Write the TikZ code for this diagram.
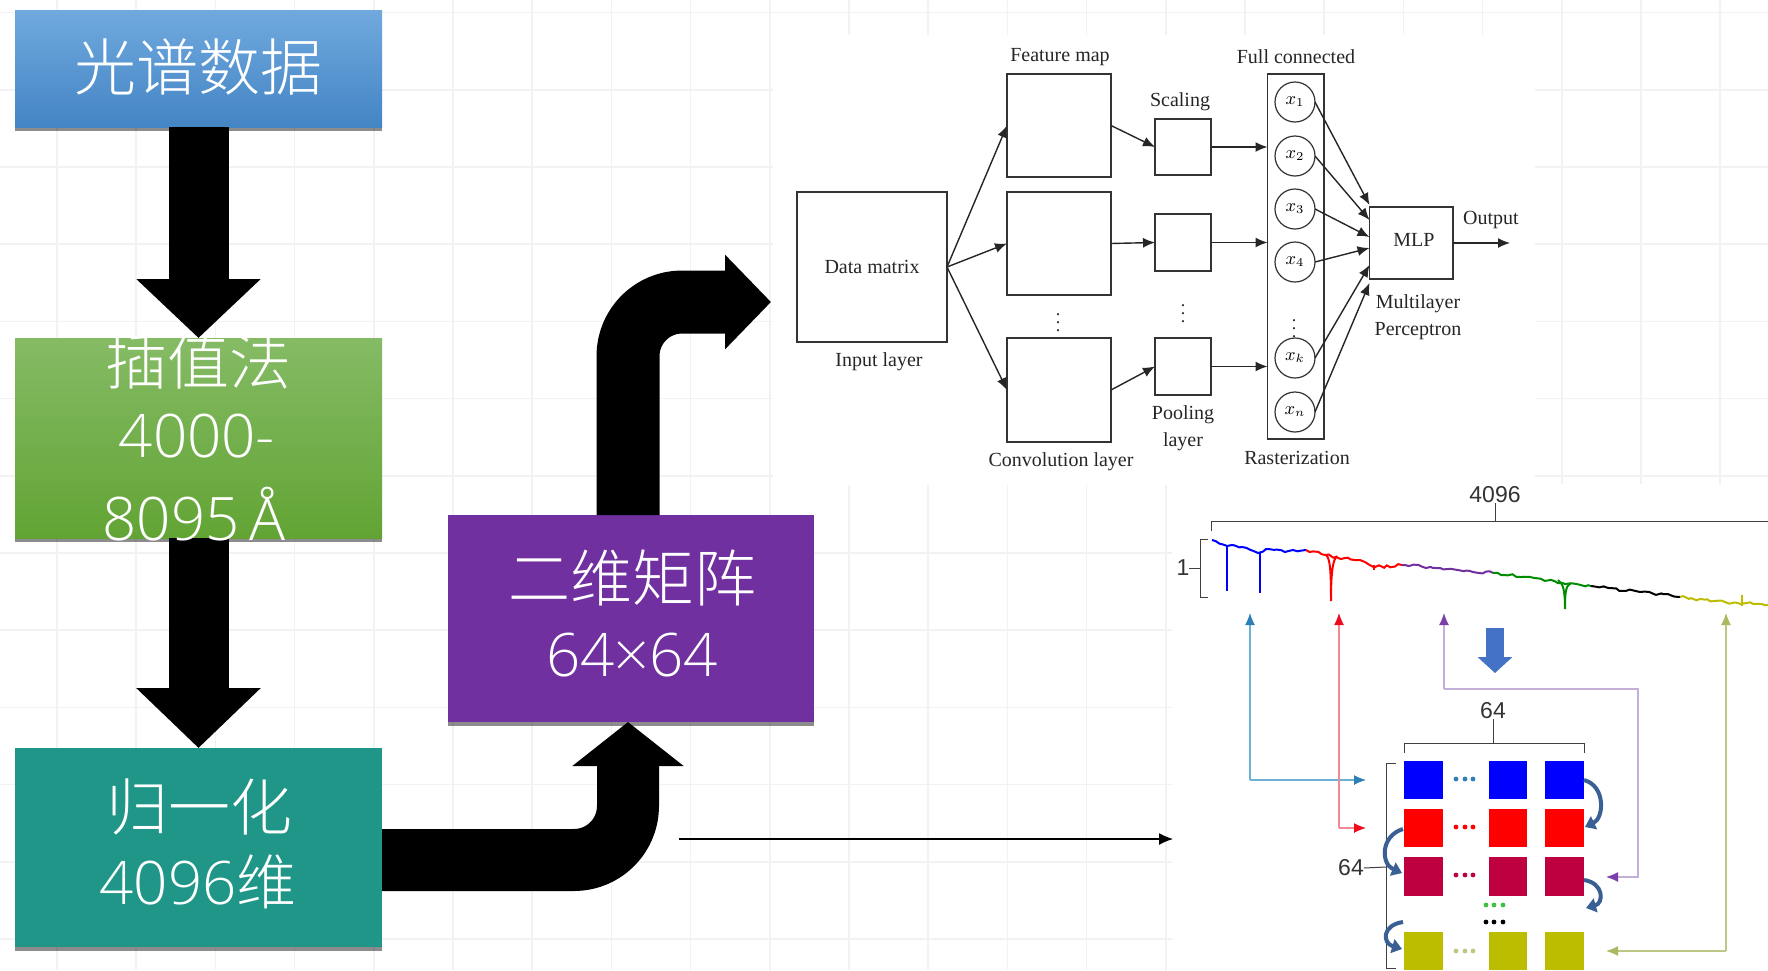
\documentclass[tikz,border=0pt]{standalone}
\usepackage{fontspec}
\usetikzlibrary{arrows.meta,shadows,calc,decorations.pathmorphing}
\setmainfont{Liberation Serif}
\newfontfamily\cjkf{Noto Sans CJK SC Light}
\newfontfamily\latf{Open Sans Light}
\newfontfamily\labf{Liberation Sans}
\definecolor{gridc}{HTML}{F2F2F4}
\definecolor{tealc}{HTML}{1F9688}
\definecolor{purpc}{HTML}{7030A0}
\definecolor{arrc}{HTML}{3A5F95}
\definecolor{dnblue}{HTML}{4472C4}
\definecolor{bluetop}{HTML}{70A9DE}\definecolor{bluebot}{HTML}{4485C5}
\definecolor{greentop}{HTML}{85BB65}\definecolor{greenbot}{HTML}{62A434}
\definecolor{lnblue}{HTML}{6DB2D6}\definecolor{tipblue}{HTML}{2E7FB5}
\definecolor{lnred}{HTML}{F28A96}\definecolor{tipred}{HTML}{F00A1E}
\definecolor{lnpur}{HTML}{C4AFD8}\definecolor{tippur}{HTML}{7A3FA8}
\definecolor{lnyel}{HTML}{BBC884}\definecolor{tipyel}{HTML}{A9BB62}
\definecolor{sqyel}{HTML}{BDBD00}
\newcommand{\pxbox}[6]{\pgfmathsetmacro\bcx{(#2+#4)/2}\pgfmathsetmacro\bcy{(#3+#5)/2}\pgfmathsetmacro\bw{(#4-#2)/2}\pgfmathsetmacro\bh{(#5-#3)/2}\node[#6,minimum width=\bw pt,minimum height=\bh pt] (#1) at (\bcx,\bcy) {};}
\tikzset{
  every node/.style={inner sep=0pt,outer sep=0pt},
  softshadow/.style={drop shadow={shadow xshift=0pt,shadow yshift=-2pt,opacity=.45,fill=black}},
  bigtext/.style={text=white,align=center},
  netbox/.style={draw=black!80,line width=.7pt,fill=white},
  netlab/.style={text=black!85,font=\fontsize{10pt}{12pt}\selectfont,align=center},
  netarrow/.style={draw=black!85,line width=.7pt,-{Latex[length=6pt,width=5pt]}},
  varc/.style={draw=black!80,line width=.6pt,circle,minimum size=20pt,font=\fontsize{9pt}{11pt}\selectfont},
  blockarrow/.style={line width=#1,draw=black,line join=round},
  dimlab/.style={text=black!80,font=\labf\fontsize{11.5pt}{13pt}\selectfont},
  brace/.style={draw=black!75,line width=.5pt},
  guide/.style={line width=.65pt,draw=#1},
  spec/.style={line width=1pt,draw=#1,decorate,decoration={random steps,segment length=2pt,amplitude=.7pt}},
  dip/.style={line width=1pt,draw=#1},
  turn/.style={draw=arrc,line width=2pt,-{Triangle[length=5pt,width=7pt]}},
  dotm/.style={circle,minimum size=2.4pt,fill=#1},
}
\begin{document}
\begin{tikzpicture}[x=.5pt,y=-.5pt]
\useasboundingbox (0,0) rectangle (1768,970);
\fill[white] (0,0) rectangle (1768,970);
% background grid
\foreach \k in {0,...,21}{\pgfmathsetmacro\gx{57+79.2*\k}\draw[gridc,line width=.8pt] (\gx,0) -- (\gx,970);}
\foreach \k in {0,...,12}{\pgfmathsetmacro\gy{12.5+77.2*\k}\draw[gridc,line width=.8pt] (0,\gy) -- (1768,\gy);}
\fill[white] (773,35) rectangle (1535,485);
\fill[white] (1172,484) rectangle (1768,970);
% flow boxes
\pxbox{specbox}{15}{10}{382}{127}{softshadow,top color=bluetop,bottom color=bluebot}
\pxbox{interp}{15}{338}{382}{538}{softshadow,top color=greentop,bottom color=greenbot}
\pxbox{norm}{15}{748}{382}{947}{softshadow,fill=tealc}
\pxbox{matrix}{448}{515}{814}{722}{softshadow,fill=purpc}
% block arrows
\draw[blockarrow=30pt,-{Triangle[length=29.5pt,width=60.5pt]}] (specbox.south) -- (interp.north);
\draw[blockarrow=30pt,-{Triangle[length=30pt,width=60.5pt]}] (interp.south) -- (norm.north);
\coordinate (bendA) at (382,860);
\coordinate (bendB) at (628,860);
\coordinate (tipB) at (628,722);
\draw[blockarrow=31pt,-{Triangle[length=22pt,width=54.5pt]},rounded corners=27pt] (bendA) -- (bendB) -- (tipB);
\coordinate (startC) at (628,515);
\coordinate (bendC) at (628,302);
\coordinate (tipC) at (771,302);
\draw[blockarrow=31.5pt,-{Triangle[length=23pt,width=46pt]},rounded corners=27pt] (startC) -- (bendC) -- (tipC);
% flow labels
\node[bigtext,font=\cjkf\fontsize{31pt}{38pt}\selectfont] (specT) at (199,67) {光谱数据};
\node[bigtext,font=\cjkf\fontsize{31pt}{38pt}\selectfont] (interpA) at (198,361) {插值法};
\node[bigtext,font=\latf\fontsize{30pt}{36pt}\selectfont] (interpB) at (197,436) {4000-};
\node[bigtext,font=\latf\fontsize{30pt}{36pt}\selectfont] (interpC) at (194,514) {8095\,Å};
\node[bigtext,font=\cjkf\fontsize{31pt}{38pt}\selectfont] (normA) at (199,807) {归一化};
\node[bigtext,font=\latf\fontsize{30pt}{36pt}\selectfont] (normB) at (198,882) {4096{\cjkf 维}};
\node[bigtext,font=\cjkf\fontsize{31pt}{38pt}\selectfont] (matA) at (632,578) {二维矩阵};
\node[bigtext,font=\latf\fontsize{30pt}{36pt}\selectfont] (matB) at (632,655) {64×64};
% thin arrow
\coordinate (thinA) at (679,839);
\coordinate (thinB) at (1173,839);
\draw[line width=.6pt,black,-{Latex[length=7pt,width=6pt]}] (thinA) -- (thinB);
% network
\pxbox{inp}{797}{192}{947}{342}{netbox}
\pxbox{fa}{1007}{74}{1111}{177}{netbox}
\pxbox{fb}{1007}{192}{1111}{295}{netbox}
\pxbox{fc}{1007}{338}{1111}{442}{netbox}
\pxbox{sa}{1155}{119}{1211}{175}{netbox}
\pxbox{sb}{1155}{214}{1211}{271}{netbox}
\pxbox{sc}{1155}{338}{1211}{395}{netbox}
\pxbox{rast}{1267.5}{74}{1324}{439}{netbox}
\pxbox{mlp}{1369.5}{207}{1453}{279}{netbox}
\node[netlab] (t1) at (872,267) {Data matrix};
\node[netlab] (t2) at (879,362) {Input layer};
\node[netlab] (t3) at (1060,57) {Feature map};
\node[netlab] (t4) at (1180,102) {Scaling};
\node[netlab] (t5) at (1296,57) {Full connected};
\node[netlab] (t6) at (1183,428) {Pooling\\[1.5pt]layer};
\node[netlab] (t7) at (1061,462) {Convolution layer};
\node[netlab] (t8) at (1297,458) {Rasterization};
\node[netlab] (t9) at (1414,240) {MLP};
\node[netlab] (t10) at (1491,220) {Output};
\node[netlab] (t11) at (1418,317) {Multilayer\\[1.5pt]Perceptron};
\node[netlab] (vd1) at (1058,317) {\fontsize{9pt}{9pt}\selectfont$\vdots$};
\node[netlab] (vd2) at (1183,308) {\fontsize{9pt}{9pt}\selectfont$\vdots$};
\node[netlab] (vd3) at (1294,323) {\fontsize{9pt}{9pt}\selectfont$\vdots$};
\node[varc] (ca) at (1295,102) {$x_{1}$};
\node[varc] (cb) at (1295,156) {$x_{2}$};
\node[varc] (cc) at (1295,209) {$x_{3}$};
\node[varc] (cd) at (1295,262) {$x_{4}$};
\node[varc] (ce) at (1295,358) {$x_{k}$};
\node[varc] (cf) at (1295,412) {$x_{n}$};
\draw[netarrow] (inp.east) -- (fa.west);
\draw[netarrow] (inp.east) -- (fb.west);
\draw[netarrow] (inp.east) -- (fc.west);
\draw[netarrow] (fa.east) -- (sa.west);
\draw[netarrow] (fb.east) -- (sb.west);
\draw[netarrow] (fc.east) -- (sc.west);
\draw[netarrow] (sa.east) -- (sa.east -| rast.west);
\draw[netarrow] (sb.east) -- (sb.east -| rast.west);
\draw[netarrow] (sc.east) -- (sc.east -| rast.west);
\coordinate (ma) at (1369.5,205);
\coordinate (mb) at (1369.5,220);
\coordinate (mc) at (1369.5,237);
\coordinate (md) at (1369.5,248);
\coordinate (me) at (1369.5,265);
\coordinate (mf) at (1369.5,283);
\draw[netarrow] (ca.east) -- (ma);
\draw[netarrow] (cb.east) -- (mb);
\draw[netarrow] (cc.east) -- (mc);
\draw[netarrow] (cd.east) -- (md);
\draw[netarrow] (ce.east) -- (me);
\draw[netarrow] (cf.east) -- (mf);
\coordinate (outEnd) at (1510,243);
\draw[netarrow] (mlp.east) -- (outEnd);
% spectrum
\pgfmathsetseed{7}
\draw[spec=blue] (1212,540) -- (1227,546) -- (1242,547) -- (1258,553) -- (1266,549) -- (1285,552) -- (1306,550);
\draw[dip=blue] (1227,546) -- (1227,591);
\draw[dip=blue] (1260,553) -- (1260,593);
\draw[spec=red] (1306,550) -- (1325,555) -- (1336,557) -- (1365,562) -- (1375,567) -- (1402,565);
\draw[line width=1pt,red] (1326,555) .. controls (1330,558) and (1331,570) .. (1331,601) .. controls (1331,570) and (1333,560) .. (1337,556);
\draw[dip=red] (1374,565) -- (1374,570);
\draw[spec=purpc] (1402,565) -- (1440,568) -- (1470,571) -- (1493,573);
\draw[spec=green!55!black] (1493,573) -- (1530,577) -- (1565,584) -- (1591,586);
\draw[line width=1pt,green!55!black] (1558,580) .. controls (1563,583) and (1565,590) .. (1565,609) .. controls (1565,590) and (1566,586) .. (1571,583);
\draw[spec=black] (1591,586) -- (1640,592) -- (1680,597);
\draw[spec=sqyel] (1680,597) -- (1725,602) -- (1768,605);
\draw[dip=sqyel] (1742,595) -- (1742,606);
% dimensions of the spectrum
\node[dimlab] (n4096) at (1495,495) {4096};
\node[dimlab] (none) at (1183,568) {1};
\coordinate (bA) at (1211,531);\coordinate (bB) at (1211,521);\coordinate (bC) at (1768,521);
\coordinate (bT) at (1495,521);
\draw[brace] (bA) -- (bB) -- (bC);
\draw[brace] (bT) -- (n4096.south);
\coordinate (cA) at (1208,539);\coordinate (cB) at (1200,539);\coordinate (cC) at (1200,597);\coordinate (cD) at (1208,597);\coordinate (cT) at (1200,568);
\draw[brace] (cA) -- (cB) -- (cC) -- (cD);
\draw[brace] (cT) -- (none.east);
% block arrow down
\coordinate (dnA) at (1495,628);\coordinate (dnB) at (1495,673);
\draw[line width=9pt,draw=dnblue,-{Triangle[length=8pt,width=17pt]}] (dnA) -- (dnB);
% squares
\foreach \nm/\yo/\yt/\cl in {a/761/799/blue,b/809/847/red,c/857/896/purple,d/932/970/sqyel}{
  \pxbox{q\nm1}{1404}{\yo}{1443}{\yt}{fill=\cl}
  \pxbox{q\nm2}{1489}{\yo}{1527}{\yt}{fill=\cl}
  \pxbox{q\nm3}{1545}{\yo}{1584}{\yt}{fill=\cl}
}
\foreach \yy/\cl in {779/tipblue,827/red,875/purple,951/lnyel}{
  \foreach \xx in {1456,1465,1473}{\node[dotm=\cl] at (\xx,\yy) {};}
}
\foreach \yy/\cl in {905/green!50!gray,922/black}{
  \foreach \xx in {1486,1494,1503}{\node[dotm=\cl] at (\xx,\yy) {};}
}
% dimensions of the matrix
\node[dimlab] (ntop) at (1493,711) {64};
\node[dimlab] (nleft) at (1351,868) {64};
\coordinate (dA) at (1404,753);\coordinate (dB) at (1404,743);\coordinate (dC) at (1584,743);\coordinate (dD) at (1584,753);\coordinate (dT) at (1493,743);
\draw[brace] (dA) -- (dB) -- (dC) -- (dD);
\draw[brace] (dT) -- (ntop.south);
\coordinate (eA) at (1396,763);\coordinate (eB) at (1386,763);\coordinate (eC) at (1386,968);\coordinate (eD) at (1396,968);\coordinate (eT) at (1386,867);
\draw[brace] (eA) -- (eB) -- (eC) -- (eD);
\draw[brace] (eT) -- (nleft.east);
% guide arrows
\coordinate (gbT) at (1250,613);\coordinate (gbM) at (1250,780);\coordinate (gbE) at (1366,780);
\draw[guide=lnblue,-{Latex[length=6pt,width=5pt,color=tipblue]}] (gbM) -- (gbT);
\draw[guide=lnblue,-{Latex[length=6pt,width=5pt,color=tipblue]}] (gbM) -- (gbE);
\coordinate (grT) at (1339,613);\coordinate (grM) at (1339,828);\coordinate (grE) at (1366,828);
\draw[guide=lnred,-{Latex[length=6pt,width=5pt,color=tipred]}] (grM) -- (grT);
\draw[guide=lnred,-{Latex[length=6pt,width=5pt,color=tipred]}] (grM) -- (grE);
\coordinate (gpT) at (1444,613);\coordinate (gpA) at (1444,689);\coordinate (gpB) at (1638,689);\coordinate (gpC) at (1638,877);\coordinate (gpE) at (1606,877);
\draw[guide=lnpur,-{Latex[length=6pt,width=5pt,color=tippur]}] (gpA) -- (gpT);
\draw[guide=lnpur,-{Latex[length=6pt,width=5pt,color=tippur]}] (gpA) -- (gpB) -- (gpC) -- (gpE);
\coordinate (gyT) at (1726,613);\coordinate (gyM) at (1726,951);\coordinate (gyE) at (1606,951);
\draw[guide=lnyel,-{Latex[length=6pt,width=5pt,color=tipyel]}] (gyM) -- (gyT);
\draw[guide=lnyel,-{Latex[length=6pt,width=5pt,color=tipyel]}] (gyM) -- (gyE);
% turning arrows
\coordinate (uaA) at (1584,780);\coordinate (uaB) at (1585,827);
\draw[turn] (uaA) .. controls (1606,786) and (1604,818) .. (uaB);
\coordinate (ubA) at (1403,829);\coordinate (ubB) at (1402,873);
\draw[turn] (ubA) .. controls (1380,836) and (1381,864) .. (ubB);
\coordinate (ucA) at (1584,880);\coordinate (ucB) at (1586,908);
\draw[turn] (ucA) .. controls (1604,883) and (1604,903) .. (ucB);
\coordinate (udA) at (1403,922);\coordinate (udB) at (1402,949);
\draw[turn] (udA) .. controls (1382,925) and (1382,943) .. (udB);
\end{tikzpicture}
\end{document}
